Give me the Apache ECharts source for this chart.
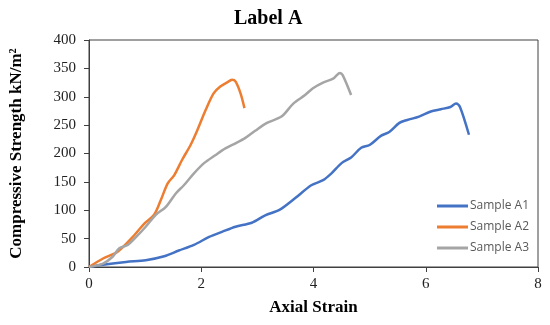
<!DOCTYPE html>
<html>
<head>
<meta charset="utf-8">
<script src="https://cdn.jsdelivr.net/npm/echarts@6/dist/echarts.min.js"></script>
<style>html,body{margin:0;padding:0;background:#fff}#c{width:550px;height:325px}</style>
</head>
<body>
<div id="c"></div>
<script>
const xTicks = [0, 2, 4, 6, 8];
const yTicks = [0, 50, 100, 150, 200, 250, 300, 350, 400];

const a1X = [0, 0.25, 0.66, 1.01, 1.34, 1.60, 1.87, 2.14, 2.37, 2.61, 2.90, 3.14, 3.40, 3.67, 3.96, 4.17, 4.32, 4.50, 4.67, 4.85, 5.00, 5.20, 5.35, 5.53, 5.67, 5.88, 6.09, 6.27, 6.44, 6.54, 6.61, 6.77];
const a1Y = [0, 4, 9, 12, 19, 29, 39, 53, 62, 71, 78, 91, 101, 121, 144, 153, 165, 183, 193, 210, 215, 231, 238, 254, 259, 265, 274, 278, 282, 288, 282, 233];

const a2X = [0, 0.25, 0.51, 0.78, 0.99, 1.16, 1.28, 1.40, 1.52, 1.66, 1.81, 1.93, 2.08, 2.22, 2.34, 2.49, 2.55, 2.61, 2.70, 2.77];
const a2Y = [0, 15, 27, 53, 77, 92, 118, 147, 162, 189, 215, 241, 277, 306, 318, 327, 330, 327, 306, 280];

const a3X = [0, 0.25, 0.42, 0.54, 0.69, 0.84, 1.01, 1.19, 1.37, 1.55, 1.69, 1.87, 2.05, 2.25, 2.43, 2.61, 2.78, 2.96, 3.17, 3.43, 3.64, 3.85, 3.99, 4.17, 4.35, 4.47, 4.52, 4.67];
const a3Y = [0, 6, 18, 33, 39, 53, 71, 92, 106, 130, 144, 165, 183, 197, 209, 218, 227, 240, 254, 265, 288, 303, 315, 325, 332, 342, 338, 303];

const names = ['Sample A1', 'Sample A2', 'Sample A3'];
const colors = ['#4472C4', '#ED7D31', '#A5A5A5'];

function pairs(xs, ys) { return xs.map((x, i) => [x, ys[i]]); }
const seriesData = [pairs(a1X, a1Y), pairs(a2X, a2Y), pairs(a3X, a3Y)];

const chart = echarts.init(document.getElementById('c'));
const serif = '"Liberation Serif", "Times New Roman", serif';
chart.setOption({
  animation: false,
  title: {
    text: 'Label A',
    left: 229, top: 4,
    textStyle: { fontFamily: serif, fontWeight: 'bold', fontSize: 20, color: '#000' }
  },
  grid: { left: 86, right: 12, top: 40, bottom: 58, show: true, borderColor: '#404040', borderWidth: 1 },
  legend: {
    orient: 'vertical', left: 432, top: 195,
    icon: 'rect', itemWidth: 31, itemHeight: 3, itemGap: 9,
    textStyle: { fontFamily: '"Open Sans", "Liberation Sans", sans-serif', fontSize: 12, color: '#595959', padding: [0, 0, 0, -3] },
    data: names
  },
  xAxis: {
    type: 'value', min: 0, max: 8, interval: 2,
    name: 'Axial Strain', nameLocation: 'middle', nameGap: 32,
    nameTextStyle: { fontFamily: serif, fontWeight: 'bold', fontSize: 17, color: '#000' },
    axisLine: { lineStyle: { color: '#404040', width: 1 } },
    axisTick: { length: 5, lineStyle: { color: '#404040' } },
    splitLine: { show: false },
    axisLabel: { fontFamily: serif, fontSize: 15, color: '#222', margin: 10,
      formatter: v => xTicks.includes(v) ? String(v) : '' }
  },
  yAxis: {
    type: 'value', min: 0, max: 400, interval: 50,
    name: 'Compressive Strength kN/m²', nameLocation: 'middle', nameGap: 64,
    nameTextStyle: { fontFamily: serif, fontWeight: 'bold', fontSize: 17, color: '#000' },
    axisLine: { show: true, lineStyle: { color: '#404040', width: 1 } },
    axisTick: { show: true, length: 5, lineStyle: { color: '#404040' } },
    splitLine: { show: false },
    axisLabel: { fontFamily: serif, fontSize: 15, color: '#222', margin: 13,
      formatter: v => yTicks.includes(v) ? String(v) : '' }
  },
  series: names.map((n, i) => ({
    name: n, type: 'line', data: seriesData[i], smooth: 0.3, showSymbol: false,
    lineStyle: { color: colors[i], width: 2.5 }, itemStyle: { color: colors[i] }
  }))
});
</script>
</body>
</html>
